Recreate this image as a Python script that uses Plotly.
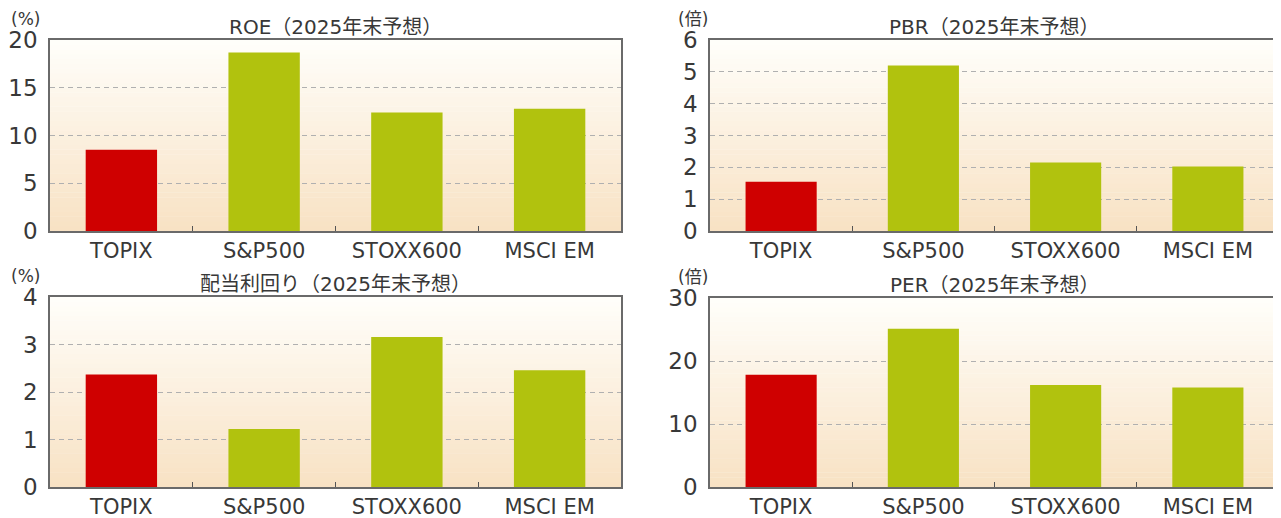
import plotly.graph_objects as go
from plotly.subplots import make_subplots

categories = ["TOPIX", "S&P500", "STOXX600", "MSCI EM"]
roe = [8.5, 18.7, 12.4, 12.8]
pbr = [1.55, 5.2, 2.15, 2.03]
div_yield = [2.37, 1.22, 3.16, 2.46]
per = [17.8, 25.1, 16.2, 15.8]

titles = ["ROE（2025年末予想）", "PBR（2025年末予想）", "配当利回り（2025年末予想）", "PER（2025年末予想）"]
units = ["(%)", "(倍)", "(%)", "(倍)"]
ranges = [[0, 20], [0, 6], [0, 4], [0, 30]]
dticks = [5, 1, 1, 10]
series = [roe, pbr, div_yield, per]

RED = "#cf0000"
GREEN = "#b1c20e"
bar_colors = [RED, GREEN, GREEN, GREEN]

W, H = 1281, 518
OFF = 8  # page body margin compensation
FONT = "DejaVu Sans, Noto Sans CJK JP"

fig = make_subplots(rows=2, cols=2)

# panel boxes in reference pixels (left, right, top, bottom)
boxes = [(50, 621, 40, 231), (710, 1279, 40, 231), (50, 621, 297, 487), (710, 1279, 298, 487)]
unit_x = [9, 676, 9, 676]

def px_x(v):
    return (v - OFF) / W

def px_y(v):
    return 1 - (v - OFF) / H

def pos(i):
    return (i // 2 + 1, i % 2 + 1)

for i, vals in enumerate(series):
    r, c = pos(i)
    fig.add_trace(go.Bar(x=categories, y=vals, marker=dict(color=bar_colors, line=dict(width=0)),
                         width=0.5, showlegend=False, hoverinfo="x+y"), row=r, col=c)

layout_updates = {}
for i in range(4):
    l, rr, t, b = boxes[i]
    xa = "xaxis" if i == 0 else f"xaxis{i+1}"
    ya = "yaxis" if i == 0 else f"yaxis{i+1}"
    layout_updates[xa] = dict(domain=[px_x(l), px_x(rr)], showline=True, mirror=True, linecolor="#6a6a6a",
                              linewidth=1.5, ticks="inside", tickson="boundaries", ticklen=5,
                              tickcolor="#555555", showgrid=False, automargin=False,
                              tickfont=dict(family=FONT, size=21, color="#383838"))
    layout_updates[ya] = dict(domain=[px_y(b), px_y(t)], range=ranges[i], dtick=dticks[i],
                              showline=True, mirror=True, linecolor="#6a6a6a", linewidth=1.5,
                              showgrid=True, gridcolor="#b0b0b0", griddash="5px,4px", gridwidth=1,
                              zeroline=False, ticks="", ticklabelstandoff=6, automargin=False,
                              tickfont=dict(family=FONT, size=23, color="#383838"))
fig.update_layout(**layout_updates)

# gradient backgrounds
def mix(c1, c2, f):
    return "#%02x%02x%02x" % tuple(int(round(a + (b_ - a) * f)) for a, b_ in zip(c1, c2))

top_c = (255, 254, 250)
bot_c = (248, 226, 196)
N = 40
shapes = []
for i in range(4):
    xr = "x domain" if i == 0 else f"x{i+1} domain"
    yr = "y domain" if i == 0 else f"y{i+1} domain"
    for k in range(N):
        f = k / (N - 1)
        shapes.append(dict(type="rect", xref=xr, yref=yr, x0=0, x1=1,
                           y0=k / N, y1=(k + 1) / N + 0.002, layer="below",
                           line=dict(width=0), fillcolor=mix(bot_c, top_c, f)))

annotations = []
for i in range(4):
    l, rr, t, b = boxes[i]
    annotations.append(dict(text=titles[i], x=px_x((l + rr) / 2), y=px_y(t - 13), xref="paper", yref="paper",
                            showarrow=False, font=dict(family=FONT, size=20, color="#383838"),
                            xanchor="center", yanchor="middle"))
    annotations.append(dict(text=units[i], x=px_x(unit_x[i]), y=px_y(t - 21), xref="paper", yref="paper",
                            showarrow=False, font=dict(family=FONT, size=17, color="#383838"),
                            xanchor="left", yanchor="middle"))

fig.update_layout(width=W, height=H, margin=dict(l=0, r=0, t=0, b=0, autoexpand=False),
                  paper_bgcolor="white", plot_bgcolor="rgba(0,0,0,0)",
                  shapes=shapes, annotations=annotations, bargap=0.5,
                  font=dict(family=FONT, color="#383838"))

fig.write_html("out.html")
